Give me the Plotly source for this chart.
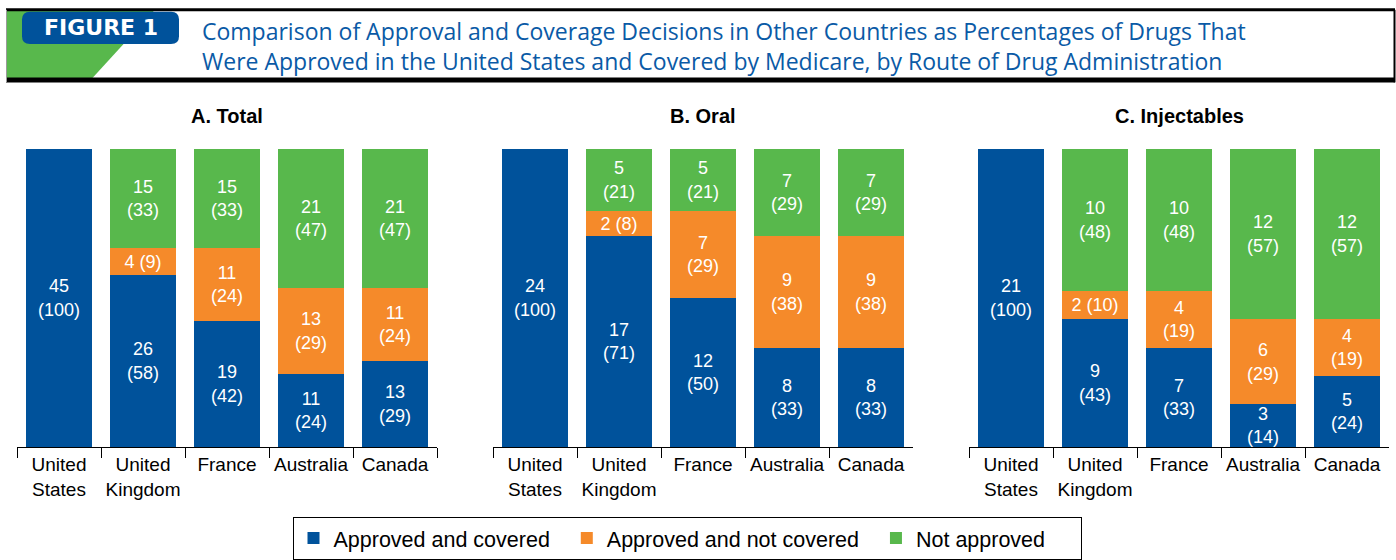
import plotly.graph_objects as go

# the page's body margin is removed (see post_script), so the figure fills the window
W, H = 1396, 560

countries = ["United<br>States", "United<br>Kingdom", "France", "Australia", "Canada"]
panel_titles = ["A. Total", "B. Oral", "C. Injectables"]
series_names = ["Approved and covered", "Approved and not covered", "Not approved"]
series_colors = ["#00529B", "#F58A2A", "#58B84C"]

# Panel A: Total (number of drugs, and percent in parentheses)
total_covered = [45, 26, 19, 11, 13]
total_not_covered = [0, 4, 11, 13, 11]
total_not_approved = [0, 15, 15, 21, 21]
total_covered_pct = [100, 58, 42, 24, 29]
total_not_covered_pct = [0, 9, 24, 29, 24]
total_not_approved_pct = [0, 33, 33, 47, 47]

# Panel B: Oral
oral_covered = [24, 17, 12, 8, 8]
oral_not_covered = [0, 2, 7, 9, 9]
oral_not_approved = [0, 5, 5, 7, 7]
oral_covered_pct = [100, 71, 50, 33, 33]
oral_not_covered_pct = [0, 8, 29, 38, 38]
oral_not_approved_pct = [0, 21, 21, 29, 29]

# Panel C: Injectables
inj_covered = [21, 9, 7, 3, 5]
inj_not_covered = [0, 2, 4, 6, 4]
inj_not_approved = [0, 10, 10, 12, 12]
inj_covered_pct = [100, 43, 33, 14, 24]
inj_not_covered_pct = [0, 10, 19, 29, 19]
inj_not_approved_pct = [0, 48, 48, 57, 57]

panels = [
    ([total_covered, total_not_covered, total_not_approved],
     [total_covered_pct, total_not_covered_pct, total_not_approved_pct]),
    ([oral_covered, oral_not_covered, oral_not_approved],
     [oral_covered_pct, oral_not_covered_pct, oral_not_approved_pct]),
    ([inj_covered, inj_not_covered, inj_not_approved],
     [inj_covered_pct, inj_not_covered_pct, inj_not_approved_pct]),
]


def X(px):
    return px / W


def Y(py):
    return 1 - py / H


def label(n, p):
    if n == 0:
        return ""
    if p < 12:
        return f"{n} ({p})"
    return f"{n}<br>({p})"


FONT = "Liberation Sans, Arial, Helvetica, sans-serif"
NB = "\u00a0"
legend_pad = [NB * 2, NB * 2, NB * 5]  # extra spacing between legend entries
fig = go.Figure()

x_domains = [(17, 437), (493, 913), (969, 1389)]
for i, (counts, pcts) in enumerate(panels):
    ax = "" if i == 0 else str(i + 1)
    for s in range(3):
        fig.add_trace(go.Bar(
            x=countries, y=counts[s], name=series_names[s] + legend_pad[s],
            marker=dict(color=series_colors[s], line=dict(width=0)),
            text=[label(n, p) for n, p in zip(counts[s], pcts[s])],
            textposition="inside", insidetextanchor="middle", textangle=0,
            textfont=dict(color="white", size=18, family=FONT),
            constraintext="none",
            showlegend=(i == 0), legendgroup=series_names[s],
            xaxis="x" + ax, yaxis="y" + ax,
        ))
    d = x_domains[i]
    fig.update_layout(**{
        "xaxis" + ax: dict(
            domain=[X(d[0]), X(d[1])], anchor="y" + ax,
            ticks="outside", tickson="boundaries", ticklen=10,
            tickwidth=1, tickcolor="black", showline=True,
            linecolor="black", linewidth=1, showgrid=False,
            tickfont=dict(size=19, color="black", family=FONT),
            fixedrange=True,
        ),
        "yaxis" + ax: dict(
            domain=[Y(456), Y(152)], anchor="x" + ax, range=[0, 100],
            visible=False, fixedrange=True,
        ),
    })
    fig.add_annotation(
        xref="paper", yref="paper", x=X((d[0] + d[1]) / 2), y=Y(118),
        text=f"<b>{panel_titles[i]}</b>", showarrow=False,
        xanchor="center", yanchor="middle",
        font=dict(size=20, color="black", family=FONT),
    )

# Header decorations
shapes = [
    dict(type="path", xref="paper", yref="paper",
         path=f"M{X(6)},{Y(11)} L{X(154)},{Y(11)} L{X(92)},{Y(80)} L{X(6)},{Y(80)} Z",
         fillcolor="#58B84C", line=dict(width=0), layer="below"),
    dict(type="line", xref="paper", yref="paper", x0=X(6), x1=X(1395), y0=Y(10), y1=Y(10),
         line=dict(color="black", width=3)),
    dict(type="line", xref="paper", yref="paper", x0=X(6), x1=X(1395), y0=Y(81.5), y1=Y(81.5),
         line=dict(color="black", width=5)),
    dict(type="line", xref="paper", yref="paper", x0=X(6.5), x1=X(6.5), y0=Y(10), y1=Y(84),
         line=dict(color="#9a9a9a", width=1)),
    dict(type="line", xref="paper", yref="paper", x0=X(1394.5), x1=X(1394.5), y0=Y(10), y1=Y(84),
         line=dict(color="black", width=2)),
]
# rounded box for "FIGURE 1"
x0, x1, y0, y1, r = 22, 179, 12, 45, 8
rp = (f"M{X(x0 + r)},{Y(y0)} L{X(x1 - r)},{Y(y0)} Q{X(x1)},{Y(y0)} {X(x1)},{Y(y0 + r)} "
      f"L{X(x1)},{Y(y1 - r)} Q{X(x1)},{Y(y1)} {X(x1 - r)},{Y(y1)} "
      f"L{X(x0 + r)},{Y(y1)} Q{X(x0)},{Y(y1)} {X(x0)},{Y(y1 - r)} "
      f"L{X(x0)},{Y(y0 + r)} Q{X(x0)},{Y(y0)} {X(x0 + r)},{Y(y0)} Z")
shapes.append(dict(type="path", xref="paper", yref="paper", path=rp,
                   fillcolor="#00529B", line=dict(width=0)))
fig.update_layout(shapes=shapes)

fig.add_annotation(
    xref="paper", yref="paper", x=X(100.5), y=Y(28.5), text="<b>FIGURE 1</b>",
    showarrow=False, xanchor="center", yanchor="middle",
    font=dict(size=22, color="white", family="DejaVu Sans, Arial, sans-serif"),
)
title_lines = [
    "Comparison of Approval and Coverage Decisions in Other Countries as Percentages of Drugs That",
    "Were Approved in the United States and Covered by Medicare, by Route of Drug Administration",
]
fig.add_annotation(
    xref="paper", yref="paper", x=X(201), y=Y(46.5), text="<br>".join(title_lines),
    showarrow=False, xanchor="left", yanchor="middle", align="left",
    font=dict(size=23, color="#0A5AA6", family="Open Sans, sans-serif"),
    borderpad=0,
)

fig.update_layout(
    width=W, height=H,
    margin=dict(l=0, r=0, t=0, b=0),
    paper_bgcolor="white", plot_bgcolor="white",
    barmode="stack", barnorm="percent", bargap=0.226,
    uniformtext=dict(minsize=18, mode="show"),
    legend=dict(
        orientation="h", x=X(687), xanchor="center", y=Y(527), yanchor="top",
        bordercolor="black", borderwidth=1, bgcolor="white",
        font=dict(size=21.5, color="black", family=FONT),
        traceorder="normal",
    ),
    font=dict(family=FONT),
)

fig.write_html(
    "out.html",
    config={"displayModeBar": False},
    post_script=("document.body.style.margin='0';"
                 "document.body.style.overflow='hidden';"
                 "document.documentElement.style.overflow='hidden';"),
)
